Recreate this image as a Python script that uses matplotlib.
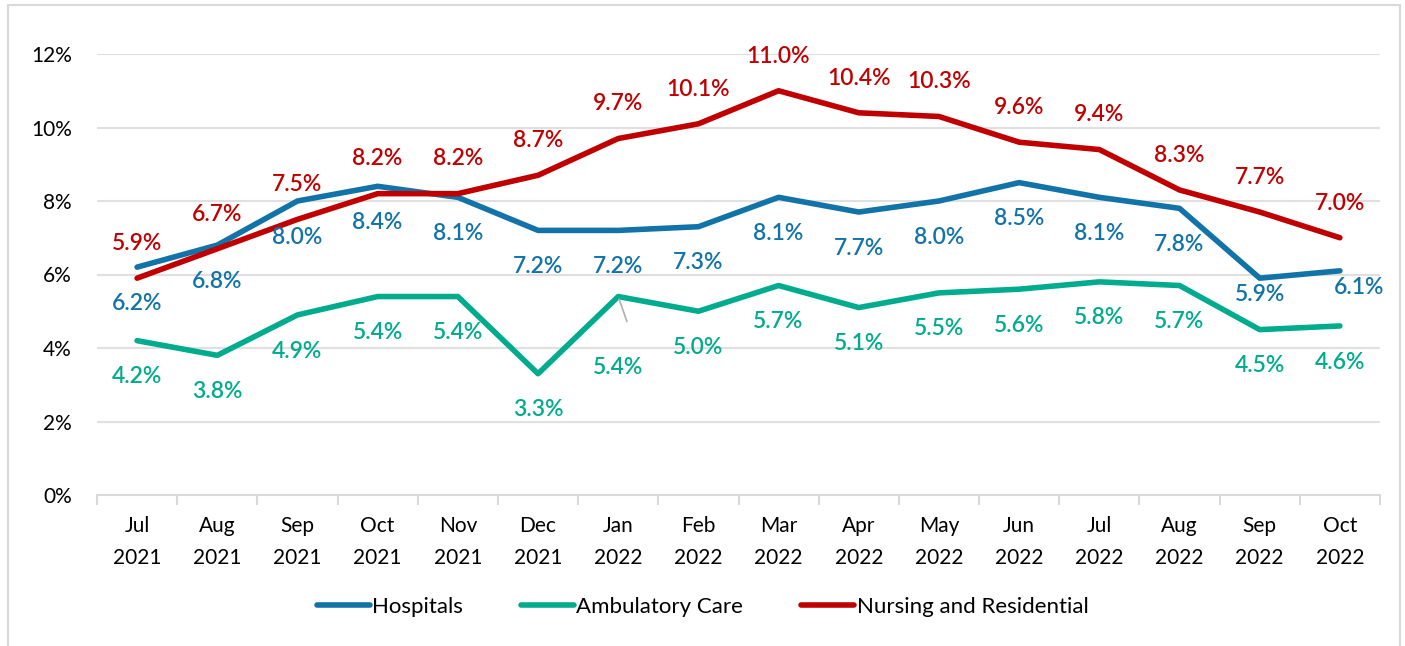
import matplotlib
matplotlib.use("Agg")
import matplotlib.pyplot as plt
from matplotlib.patches import Rectangle
import numpy as np

months = ["Jul\n2021", "Aug\n2021", "Sep\n2021", "Oct\n2021", "Nov\n2021", "Dec\n2021",
          "Jan\n2022", "Feb\n2022", "Mar\n2022", "Apr\n2022", "May\n2022", "Jun\n2022",
          "Jul\n2022", "Aug\n2022", "Sep\n2022", "Oct\n2022"]
hospitals = [6.2, 6.8, 8.0, 8.4, 8.1, 7.2, 7.2, 7.3, 8.1, 7.7, 8.0, 8.5, 8.1, 7.8, 5.9, 6.1]
ambulatory = [4.2, 3.8, 4.9, 5.4, 5.4, 3.3, 5.4, 5.0, 5.7, 5.1, 5.5, 5.6, 5.8, 5.7, 4.5, 4.6]
nursing = [5.9, 6.7, 7.5, 8.2, 8.2, 8.7, 9.7, 10.1, 11.0, 10.4, 10.3, 9.6, 9.4, 8.3, 7.7, 7.0]

BLUE, GREEN, RED = "#1173A8", "#00AB8E", "#C00000"
plt.rcParams["font.family"] = ["Lato", "DejaVu Sans"]

fig = plt.figure(figsize=(14.05, 6.46), dpi=100)
ax = fig.add_axes([97/1405, 1-495/646, (1380-97)/1405, (495-54)/646])
x = np.arange(len(months))

series = [("Hospitals", hospitals, BLUE, -26), ("Ambulatory Care", ambulatory, GREEN, -26),
          ("Nursing and Residential", nursing, RED, 25)]
for name, vals, col, dy in series:
    ax.plot(x, vals, color=col, lw=4, solid_capstyle="round", solid_joinstyle="round", label=name)
    for i, v in enumerate(vals):
        ox, oy = 0, dy
        if name == "Hospitals" and i == 15:
            ox, oy = 14, -12
        if name == "Hospitals" and i == 14:
            oy = -12
        if name == "Ambulatory Care" and i == 6:
            oy = -51
        ax.annotate(f"{v:.1f}%", (i, v), xytext=(ox, oy), textcoords="offset points",
                    ha="center", va="center", color=col, fontsize=16.5, fontweight="semibold")

# leader line for Jan 2022 ambulatory label
ax.annotate("", (6, ambulatory[6]), xytext=(6.12, 4.65),
            arrowprops=dict(arrowstyle="-", color="#b0b0b0", lw=1.2))

ax.set_xlim(-0.5, 15.5)
ax.set_ylim(0, 12)
ax.set_yticks(np.arange(0, 13, 2))
ax.set_yticklabels([f"{t}%" for t in range(0, 13, 2)])
ax.yaxis.grid(True, color="#e0e0e0", lw=1.5)
ax.set_axisbelow(True)
ax.set_xticks(x)
ax.set_xticklabels(months, linespacing=1.75)
ax.set_xticks(np.arange(-0.5, 16, 1), minor=True)
ax.tick_params(axis="x", which="major", length=0, pad=15, labelsize=15)
ax.tick_params(axis="x", which="minor", length=7, width=1.5, color="#d9d9d9")
ax.tick_params(axis="y", length=0, pad=18, labelsize=15)
for s in ["top", "right", "left"]:
    ax.spines[s].set_visible(False)
ax.spines["bottom"].set_color("#d9d9d9")
ax.spines["bottom"].set_linewidth(1.5)

fig.legend(loc="center", bbox_to_anchor=(0.5, 1-607/646), ncol=3, frameon=False,
           fontsize=16, handlelength=2.4, handletextpad=0.1, columnspacing=2.6)

fig.patches.append(Rectangle((8/1405, -0.01), 1392/1405, 1-5/646+0.01, transform=fig.transFigure,
                             fill=False, ec="#d9d9d9", lw=1.5))

fig.savefig("out.png", dpi=100)
